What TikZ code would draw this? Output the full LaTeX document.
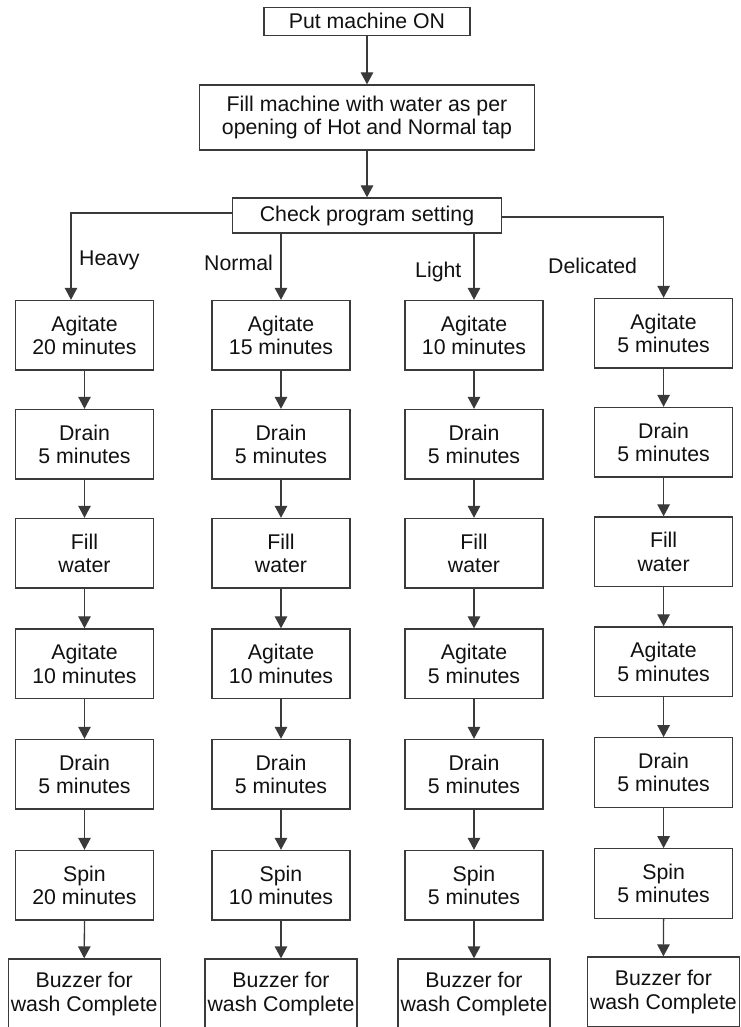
\documentclass[tikz,border=0pt]{standalone}
\usepackage{fontspec}
\setmainfont{Liberation Sans}
\usetikzlibrary{arrows.meta}
\definecolor{linec}{HTML}{3A3A3A}
\definecolor{textc}{HTML}{111111}
\begin{document}
\begin{tikzpicture}[x=1pt,y=-1pt,
  font=\fontsize{21.3}{23.4}\selectfont,
  every node/.style={text=textc},
  stepbox/.style={draw=linec, line width=1.3pt, align=center, inner sep=0pt,
    minimum width=138pt, minimum height=69.5pt},
  topbox/.style={draw=linec, line width=1.3pt, align=center, inner sep=0pt},
  endbox/.style={stepbox, minimum width=152pt, minimum height=70pt},
  lbl/.style={inner sep=0pt, anchor=base west},
  arr/.style={draw=linec, line width=1.3pt, -{Triangle[length=12pt,width=12.5pt]}}]
\useasboundingbox[fill=white] (0,0) rectangle (740,1027);

% header chain
\node[topbox, minimum width=206pt, minimum height=28pt] (put) at (367,21.3) {Put machine ON};
\node[topbox, minimum width=335pt, minimum height=65pt] (fill) at (367,117.5)
  {Fill machine with water as per\\opening of Hot and Normal tap};
\node[topbox, minimum width=269pt, minimum height=35pt] (chk) at (367,215.5) {Check program setting};
\draw[arr] (put.south) -- (fill.north);
\draw[arr] (fill.south) -- (chk.north);

% Heavy program
\node[stepbox] (h1) at (84.5,335.2) {Agitate\\20 minutes};
\node[stepbox] (h2) at (84.5,444.2) {Drain\\5 minutes};
\node[stepbox] (h3) at (84.5,553.2) {Fill\\water};
\node[stepbox] (h4) at (84.5,663.7) {Agitate\\10 minutes};
\node[stepbox] (h5) at (84.5,774.2) {Drain\\5 minutes};
\node[stepbox] (h6) at (84.5,885.2) {Spin\\20 minutes};
\node[endbox]  (h7) at (84.2,994) {Buzzer for\\wash Complete};

% Normal program
\node[stepbox] (n1) at (281,335.2) {Agitate\\15 minutes};
\node[stepbox] (n2) at (281,444.2) {Drain\\5 minutes};
\node[stepbox] (n3) at (281,553.2) {Fill\\water};
\node[stepbox] (n4) at (281,663.7) {Agitate\\10 minutes};
\node[stepbox] (n5) at (281,774.2) {Drain\\5 minutes};
\node[stepbox] (n6) at (281,885.2) {Spin\\10 minutes};
\node[endbox]  (n7) at (281,994) {Buzzer for\\wash Complete};

% Light program
\node[stepbox] (l1) at (474,335.2) {Agitate\\10 minutes};
\node[stepbox] (l2) at (474,444.2) {Drain\\5 minutes};
\node[stepbox] (l3) at (474,553.2) {Fill\\water};
\node[stepbox] (l4) at (474,663.7) {Agitate\\5 minutes};
\node[stepbox] (l5) at (474,774.2) {Drain\\5 minutes};
\node[stepbox] (l6) at (474,885.2) {Spin\\5 minutes};
\node[endbox]  (l7) at (474,994) {Buzzer for\\wash Complete};

% Delicate program
\node[stepbox] (d1) at (663.6,333.2) {Agitate\\5 minutes};
\node[stepbox] (d2) at (663.6,442.2) {Drain\\5 minutes};
\node[stepbox] (d3) at (663.6,551.7) {Fill\\water};
\node[stepbox] (d4) at (663.6,661.7) {Agitate\\5 minutes};
\node[stepbox] (d5) at (663.6,772.5) {Drain\\5 minutes};
\node[stepbox] (d6) at (663.6,883.5) {Spin\\5 minutes};
\node[endbox]  (d7) at (663.4,992) {Buzzer for\\wash Complete};

% branches out of the program check
\draw[arr] ([yshift=2.5pt]chk.west) -| ([xshift=-13.5pt]h1.north);
\draw[arr] (n1.north |- chk.south) -- (n1.north);
\draw[arr] (l1.north |- chk.south) -- (l1.north);
\draw[arr] ([yshift=-1.5pt]chk.east) -| (d1.north);

\node[lbl] (lh) at (79,265) {Heavy};
\node[lbl] (ln) at (204,270) {Normal};
\node[lbl] (ll) at (415,277) {Light};
\node[lbl] (ld) at (548,273) {Delicated};

% steps within each program
\foreach \c in {h,n,l,d}{
  \foreach \i [evaluate=\i as \j using int(\i+1)] in {1,...,6}{
    \draw[arr] (\c\i.south) -- (\c\j.north);
  }
}
\end{tikzpicture}
\end{document}
